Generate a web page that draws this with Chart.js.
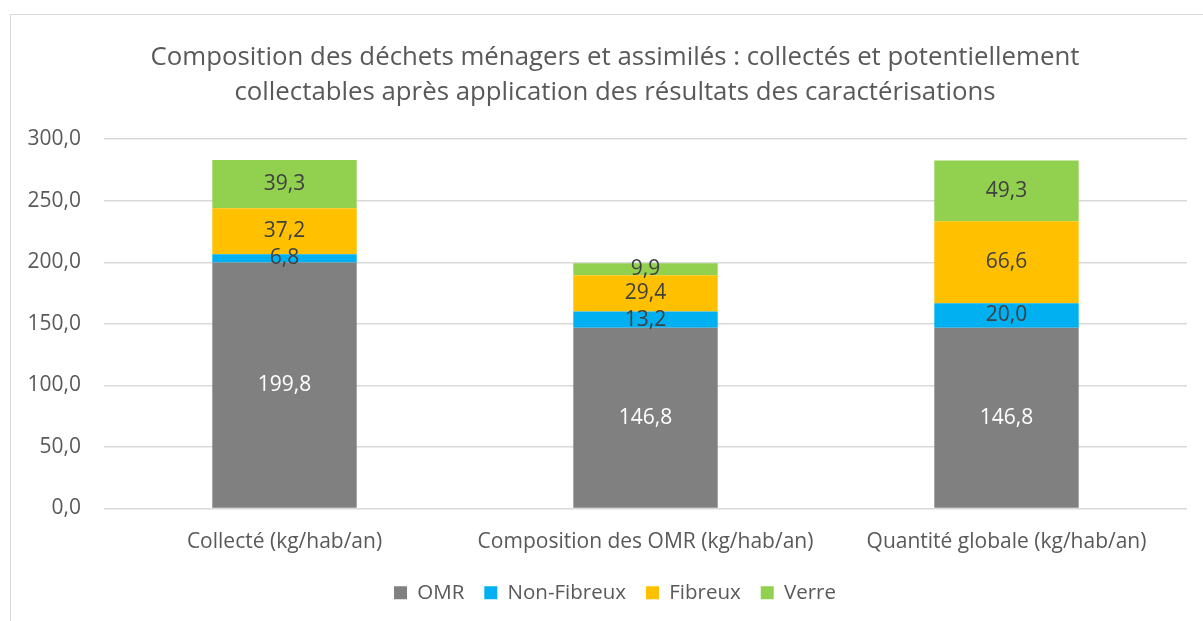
<!DOCTYPE html>
<html>
<head>
<meta charset="utf-8">
<script src="https://cdn.jsdelivr.net/npm/chart.js@4"></script>
<style>
  html, body { margin: 0; padding: 0; background: #ffffff; }
  #wrap { position: relative; width: 1203px; height: 621px; overflow: hidden; }
  #frame { position: absolute; left: 10px; top: 14px; width: 1250px; height: 700px; border: 1px solid #d9d9d9; box-sizing: border-box; }
  canvas { position: absolute; left: 0; top: 0; }
</style>
</head>
<body>
<div id="wrap">
  <div id="frame"></div>
  <canvas id="c" width="1203" height="621"></canvas>
</div>
<script>
const titleLines = [
  "Composition des déchets ménagers et assimilés : collectés et potentiellement",
  "collectables après application des résultats des caractérisations"
];
const categories = ["Collecté (kg/hab/an)", "Composition des OMR (kg/hab/an)", "Quantité globale (kg/hab/an)"];
const seriesNames = ["OMR", "Non-Fibreux", "Fibreux", "Verre"];
const omr = [199.8, 146.8, 146.8];
const nonFibreux = [6.8, 13.2, 20.0];
const fibreux = [37.2, 29.4, 66.6];
const verre = [39.3, 9.9, 49.3];
const yTicks = [0, 50, 100, 150, 200, 250, 300];

const colors = ["#808080", "#00B0F0", "#FFC000", "#92D050"];
const labelColors = ["#ffffff", "#404040", "#404040", "#404040"];
const FONT = "'Open Sans', 'Noto Sans', sans-serif";
const fmt = v => v.toFixed(1).replace('.', ',');

const dataLabels = {
  id: 'dataLabels',
  afterDatasetsDraw(chart) {
    const ctx = chart.ctx;
    ctx.save();
    ctx.font = "21px " + FONT;
    ctx.textAlign = 'center';
    ctx.textBaseline = 'middle';
    chart.data.datasets.forEach((ds, i) => {
      const meta = chart.getDatasetMeta(i);
      meta.data.forEach((el, j) => {
        const p = el.getProps(['x', 'y', 'base'], true);
        ctx.fillStyle = labelColors[i];
        ctx.fillText(fmt(ds.data[j]), p.x, (p.y + p.base) / 2);
      });
    });
    // y-axis tick labels, placed through the y scale
    const ys = chart.scales.y;
    ctx.font = "21px " + FONT;
    ctx.fillStyle = '#595959';
    ctx.textAlign = 'right';
    yTicks.forEach(v => {
      ctx.fillText(fmt(v), ys.right - 23, ys.getPixelForValue(v));
    });
    ctx.restore();
  }
};

const seriesData = [omr, nonFibreux, fibreux, verre];
new Chart(document.getElementById('c'), {
  type: 'bar',
  data: {
    labels: categories,
    datasets: seriesNames.map((n, i) => ({
      label: n,
      data: seriesData[i],
      backgroundColor: colors[i],
      borderWidth: 0,
      barPercentage: 0.4,
      categoryPercentage: 1.0
    }))
  },
  options: {
    responsive: false,
    animation: false,
    devicePixelRatio: 1,
    layout: { padding: { left: 43, right: 16, top: 0, bottom: 8 } },
    scales: {
      x: {
        stacked: true,
        afterFit: s => { s.height = 54; },
        grid: { display: false, drawTicks: false },
        border: { display: false },
        ticks: { color: '#595959', font: { family: FONT, size: 21 }, padding: 21, maxRotation: 0 }
      },
      y: {
        stacked: true,
        min: 0, max: 300,
        afterBuildTicks: s => { s.ticks = yTicks.map(v => ({ value: v })); },
        afterFit: s => { s.width = 61; },
        grid: { color: '#d9d9d9', lineWidth: 1.5, drawTicks: false },
        border: { display: false },
        ticks: { display: false }
      }
    },
    plugins: {
      title: {
        display: true,
        text: titleLines,
        color: '#595959',
        font: { family: FONT, size: 25.8, weight: 'normal', lineHeight: 1.36 },
        padding: { top: 40, bottom: 29 }
      },
      legend: {
        position: 'bottom',
        labels: {
          color: '#595959',
          font: { family: FONT, size: 20.5 },
          boxWidth: 13, boxHeight: 13,
          padding: 20
        }
      },
      tooltip: { enabled: false }
    }
  },
  plugins: [dataLabels]
});
</script>
</body>
</html>
